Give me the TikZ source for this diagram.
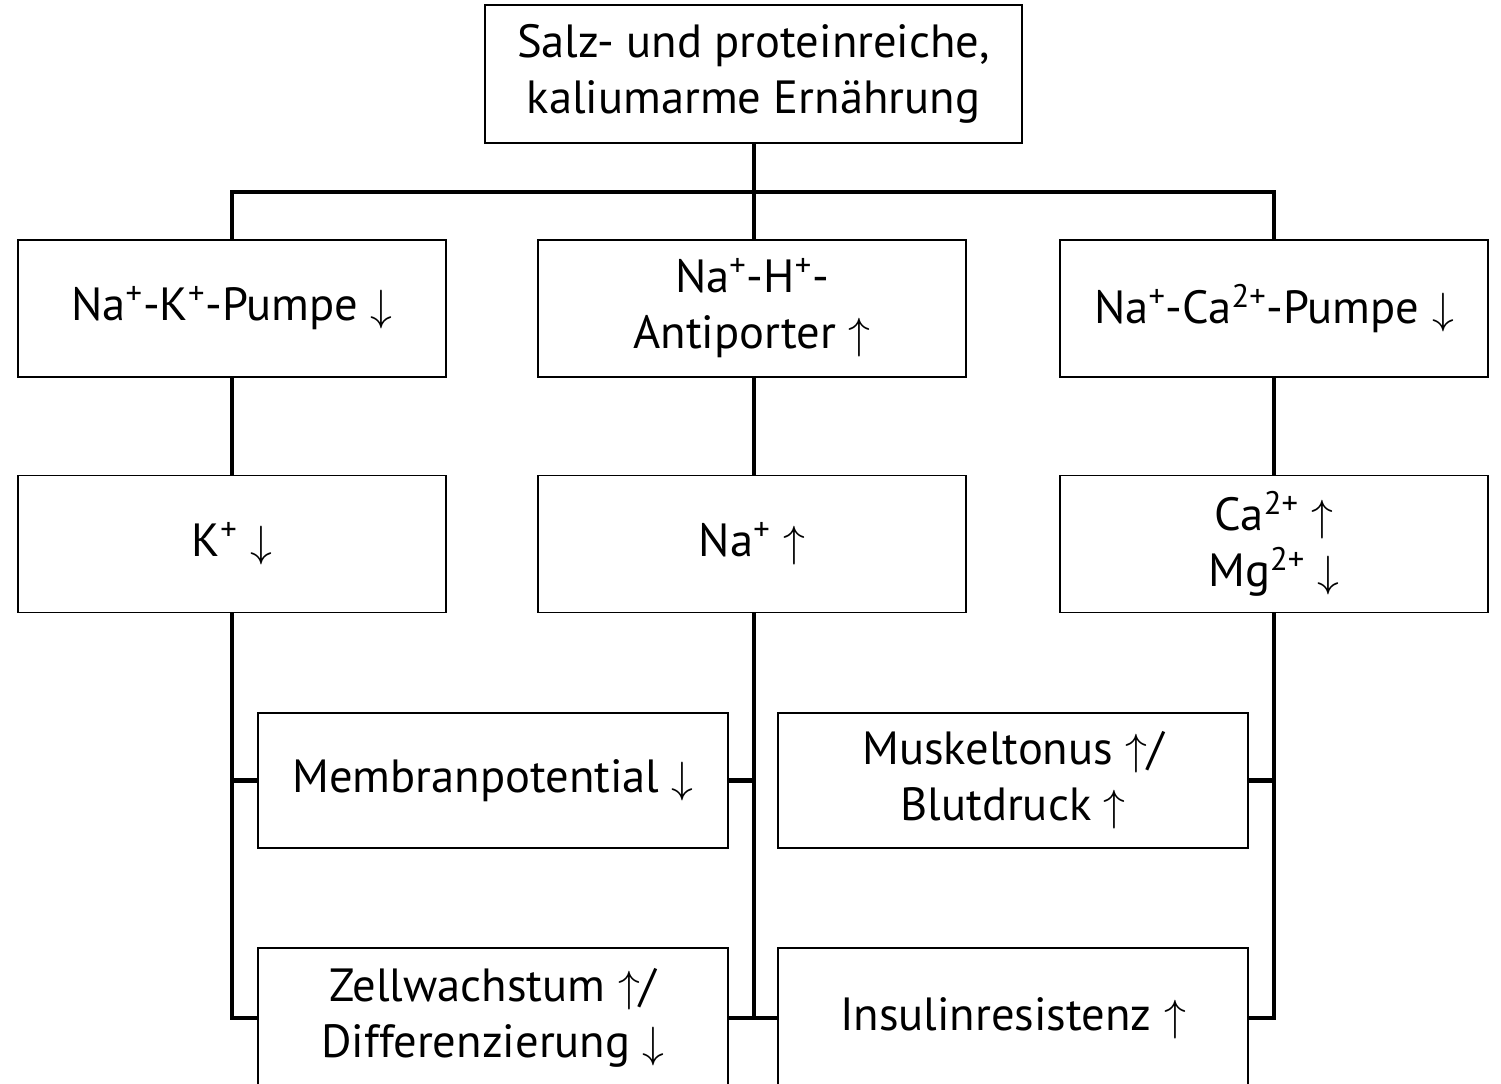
\documentclass[tikz,border=0pt]{standalone}
\usepackage{fontspec}
\setmainfont{PT Sans}
\usepackage{tikz}
\usetikzlibrary{calc}

\newcommand{\hoch}{\ $\uparrow$}
\newcommand{\runter}{\ $\downarrow$}

\begin{document}
\begin{tikzpicture}[x=0.02cm,y=-0.02cm]
			\tikzstyle{box}=[draw,line width=1.1pt,align=center,inner sep=0pt,font=\fontsize{26.5}{32}\selectfont]
			\tikzstyle{wide}=[box,minimum width=8.56cm,minimum height=2.74cm]
			\tikzstyle{low}=[box,minimum width=9.40cm,minimum height=2.70cm]
			\tikzstyle{conn}=[line width=2.6pt]

			\useasboundingbox (0,0) rectangle (1501,1083);
			\clip (0,0) rectangle (1501,1083);

			\node (diet) [box, minimum width=10.74cm, minimum height=2.76cm] at (753.5,74) {Salz- und proteinreiche,\\kaliumarme Ernährung};

			\node (nak) [wide] at (232,308.5) {Na\textsuperscript{+}-K\textsuperscript{+}-Pumpe\runter};
			\node (nah) [wide] at (752,308.5) {Na\textsuperscript{+}-H\textsuperscript{+}-\\Antiporter\hoch};
			\node (naca) [wide] at (1274,308.5) {Na\textsuperscript{+}-Ca\textsuperscript{2+}-Pumpe\runter};

			\node (kion) [wide] at (232,544) {K\textsuperscript{+}\runter};
			\node (naion) [wide] at (752,544) {Na\textsuperscript{+}\hoch};
			\node (caion) [wide] at (1274,544) {Ca\textsuperscript{2+}\hoch\\Mg\textsuperscript{2+}\runter};

			\node (membran) [low] at (493,780.5) {Membranpotential\runter};
			\node (muskel) [low] at (1013,780.5) {Muskeltonus\hoch/\\Blutdruck\hoch};
			\node (zell) [low, minimum height=2.80cm] at (493,1018) {Zellwachstum\hoch/\\Differenzierung\runter};
			\node (insulin) [low, minimum height=2.80cm] at (1013,1018) {Insulinresistenz\hoch};

			% top level
			\coordinate (bus) at (754,192);
			\draw [conn] (diet.south -| bus) -- (nah.north -| bus);
			\draw [conn] (nak.north) |- (bus) -| (naca.north);

			\draw [conn] (nak.south) -- (kion.north);
			\draw [conn] (nah.south -| bus) -- (naion.north -| bus);
			\draw [conn] (naca.south) -- (caion.north);

			% lower level
			\draw [conn] (kion.south) |- (zell.west);
			\draw [conn] (membran.west) -- (membran.west -| kion.south);
			\draw [conn] (naion.south -| bus) -- (zell.east -| bus);
			\draw [conn] (membran.east) -- (membran.east -| bus);
			\draw [conn] (zell.east) -- (insulin.west);
			\draw [conn] (caion.south) |- (insulin.east);
			\draw [conn] (muskel.east) -- (muskel.east -| caion.south);
		\end{tikzpicture}
\end{document}
